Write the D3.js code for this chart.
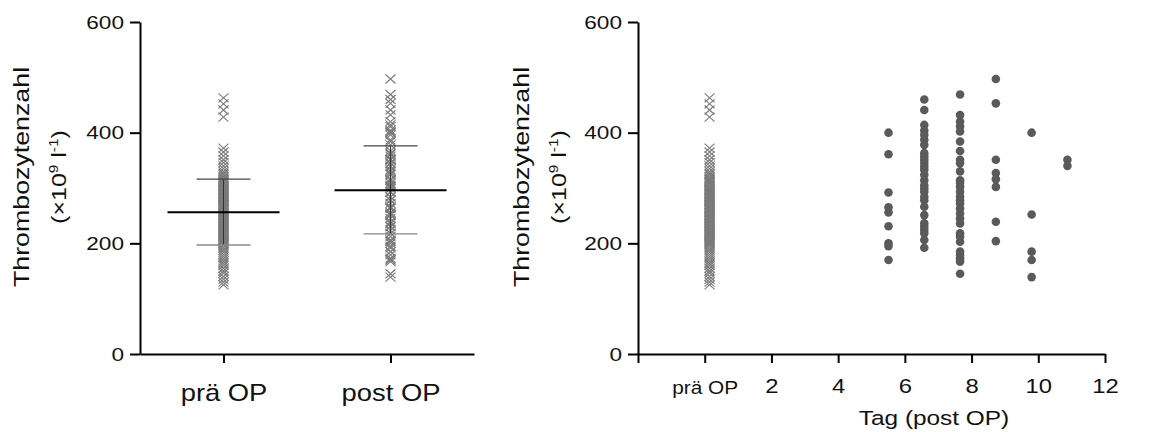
<!DOCTYPE html>
<html lang="de">

<head>
  <meta charset="UTF-8">
  <title>Thrombozytenzahl</title>
  <style>
    body { margin: 0; background: #fff; }
    text { font-family: "Liberation Sans", Arial, sans-serif; fill: #111; }
  </style>
</head>

<body>

  <script src="https://cdn.jsdelivr.net/npm/d3@7/dist/d3.min.js"></script>
  <script>

    let width = 1156
    let height = 432

    // Werte
    let groups = ['prä OP', 'post OP']
    let yTicks = [0, 200, 400, 600]
    let dayTicks = [-2, 0, 2, 4, 6, 8, 10, 12]

    let praeOP = [463, 452, 441, 428,
      372, 365, 358, 351, 346, 340, 335, 330, 327, 324,
      320, 318, 316, 314, 312, 310, 308, 305, 303, 300, 298, 296, 295, 293, 291, 290,
      288, 286, 285, 283, 281, 280, 278, 276, 275, 273, 271, 270, 268, 266, 265, 263,
      261, 260, 258, 256, 255, 253, 251, 250, 248, 246, 245, 243, 241, 240, 238, 236,
      235, 233, 231, 230, 228, 226, 225, 223, 221, 220, 218, 216, 215, 213, 211, 210,
      208, 206, 205, 203, 201, 200, 198, 196,
      192, 188, 184, 180, 176, 172, 168, 164, 160, 155, 150, 146, 140, 135, 130, 125]

    let days = [5, 6, 7, 8, 9, 10]
    let tag5 = [400, 361, 292, 265, 256, 231, 200, 195, 170]
    let tag6 = [460, 441, 414, 404, 396, 387, 378, 363, 357, 351, 345, 339, 333, 324,
      314, 305, 299, 293, 284, 278, 266, 251, 236, 230, 224, 218, 206, 192]
    let tag7 = [469, 432, 420, 411, 402, 384, 367, 351, 345, 330, 314, 309, 302, 293,
      284, 278, 272, 263, 254, 245, 236, 218, 212, 203, 185, 179, 173, 167, 145]
    let tag8 = [497, 453, 351, 327, 316, 302, 239, 204]
    let tag9 = [400, 252, 185, 170, 139]
    let tag10 = [351, 340]
    let perDay = [tag5, tag6, tag7, tag8, tag9, tag10]

    // post OP = alle Werte der Tage 5-10
    let postOP = [].concat(...perDay)

    // Mittelwert und SD-Balken
    let meanVals = [256, 296]
    let sdLow = [197, 217]
    let sdHigh = [316, 376]

    let svg = d3.select('body')
      .append('svg')
      .attr('width', width)
      .attr('height', height)

    let y = d3.scaleLinear().domain([0, 600]).range([354, 22])

    let crossPath = 'M-5,-4.5L5,4.5M-5,4.5L5,-4.5'
    let wide = 1.19 // Schrift im Original ist breiter als Arial

    function stretch(sel) {
      sel.each(function () {
        let t = d3.select(this)
        let x = +t.attr('x') || 0
        t.attr('x', x / wide).attr('transform', `scale(${wide},1)`)
      })
    }

    function styleAxis(g, size) {
      g.select('.domain').attr('stroke', '#000').attr('stroke-width', 2)
      g.selectAll('.tick line').attr('stroke', '#000').attr('stroke-width', 2)
      g.selectAll('.tick text').attr('fill', '#111').attr('font-size', size)
      stretch(g.selectAll('.tick text'))
    }

    function yTitle(x) {
      svg.append('text')
        .attr('transform', `translate(${x},177) rotate(-90) scale(${wide},1)`)
        .attr('text-anchor', 'middle')
        .attr('font-size', 22.5)
        .text('Thrombozytenzahl')
      let t2 = svg.append('text')
        .attr('transform', `translate(${x + 37},177) rotate(-90) scale(${wide},1)`)
        .attr('text-anchor', 'middle')
        .attr('font-size', 21)
      t2.append('tspan').text('(×10')
      t2.append('tspan').attr('font-size', 13).attr('dy', -8).text('9')
      t2.append('tspan').attr('dy', 8).text(' l')
      t2.append('tspan').attr('font-size', 13).attr('dy', -8).text('-1')
      t2.append('tspan').attr('dy', 8).text(')')
    }

    // ---------- linkes Diagramm ----------
    let xL = d3.scalePoint().domain(groups).range([140, 474]).padding(0.5)

    let gLy = svg.append('g').attr('transform', 'translate(140,0)')
      .call(d3.axisLeft(y).tickValues(yTicks).tickSize(10).tickSizeOuter(0).tickPadding(6))
    styleAxis(gLy, 19)

    let gLx = svg.append('g').attr('transform', 'translate(0,354)')
      .call(d3.axisBottom(xL).tickSize(9).tickSizeOuter(0).tickPadding(22))
    styleAxis(gLx, 23)

    yTitle(29)

    let colData = [praeOP, postOP]
    colData.forEach((vals, i) => {
      svg.append('g').selectAll('path')
        .data(vals)
        .enter()
        .append('path')
        .attr('d', crossPath)
        .attr('transform', d => `translate(${xL(groups[i])},${y(d)})`)
        .attr('fill', 'none')
        .attr('stroke', '#7a7a7a')
        .attr('stroke-width', 1.1)
    })

    // Mittelwert +/- SD
    let stats = groups.map((g, i) => ({ g: g, m: meanVals[i], lo: sdLow[i], hi: sdHigh[i] }))
    let gs = svg.append('g').selectAll('g').data(stats).enter().append('g')
    gs.append('line')
      .attr('x1', d => xL(d.g)).attr('x2', d => xL(d.g))
      .attr('y1', d => y(d.lo)).attr('y2', d => y(d.hi))
      .attr('stroke', '#333').attr('stroke-width', 1)
    gs.append('line')
      .attr('x1', d => xL(d.g) - 56).attr('x2', d => xL(d.g) + 56)
      .attr('y1', d => y(d.m)).attr('y2', d => y(d.m))
      .attr('stroke', '#000').attr('stroke-width', 2)
    gs.append('line')
      .attr('x1', d => xL(d.g) - 27).attr('x2', d => xL(d.g) + 27)
      .attr('y1', d => y(d.hi)).attr('y2', d => y(d.hi))
      .attr('stroke', '#444').attr('stroke-width', 1.3)
    gs.append('line')
      .attr('x1', d => xL(d.g) - 27).attr('x2', d => xL(d.g) + 27)
      .attr('y1', d => y(d.lo)).attr('y2', d => y(d.lo))
      .attr('stroke', '#888').attr('stroke-width', 1.3)

    // ---------- rechtes Diagramm ----------
    let xR = d3.scaleLinear().domain([-2, 12]).range([638, 1105])
    // Punkte liegen im Original auf einer etwas breiteren Skala
    let xD = d3.scaleLinear().domain([-2, 12]).range([638, 1139])

    let gRy = svg.append('g').attr('transform', 'translate(638,0)')
      .call(d3.axisLeft(y).tickValues(yTicks).tickSize(10).tickSizeOuter(0).tickPadding(6))
    styleAxis(gRy, 19)

    let gRx = svg.append('g').attr('transform', 'translate(0,354)')
      .call(d3.axisBottom(xR).tickValues(dayTicks).tickSize(9).tickSizeOuter(0).tickPadding(16)
        .tickFormat(d => d === 0 ? 'prä OP' : (d < 0 ? '' : d)))
    styleAxis(gRx, 20)
    gRx.selectAll('.tick text').filter(d => d === 0).attr('font-size', 17.5).attr('dy', '0.83em')

    svg.append('text')
      .attr('transform', `translate(934,425) scale(${wide},1)`)
      .attr('text-anchor', 'middle')
      .attr('font-size', 20.5)
      .text('Tag (post OP)')

    yTitle(529)

    svg.append('g').selectAll('path')
      .data(praeOP)
      .enter()
      .append('path')
      .attr('d', crossPath)
      .attr('transform', d => `translate(${xD(0)},${y(d)})`)
      .attr('fill', 'none')
      .attr('stroke', '#7a7a7a')
      .attr('stroke-width', 1.1)

    let dots = []
    perDay.forEach((vals, i) => vals.forEach(v => dots.push({ day: days[i], v: v })))

    svg.append('g').selectAll('circle')
      .data(dots)
      .enter()
      .append('circle')
      .attr('cx', d => xD(d.day))
      .attr('cy', d => y(d.v))
      .attr('r', 4.3)
      .attr('fill', '#5a5a5a')
  </script>
</body>

</html>
